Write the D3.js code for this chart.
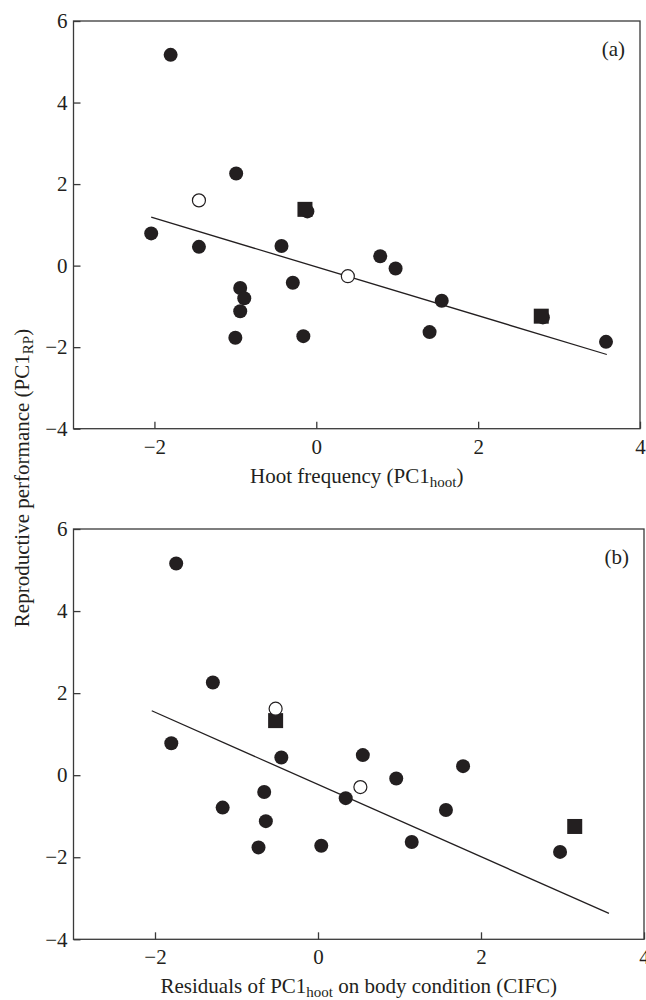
<!DOCTYPE html>
<html>
<head>
<meta charset="utf-8">
<script src="https://cdn.jsdelivr.net/npm/d3@7"></script>
<style>
  body { margin: 0; background: #fff; }
  text { font-family: "Liberation Serif", "DejaVu Serif", serif; fill: #231f20; }
</style>
</head>
<body>
<div id="chart"></div>
<script>
// Panel (a): hoot frequency vs reproductive performance
const aFilledX = [-1.80, -0.99, -2.04, -1.45, -0.43, -0.29, -0.94, -0.89, -0.94, -1.00, -0.16, -0.11, 0.79, 0.98, 1.55, 1.40, 2.80, 3.58];
const aFilledY = [5.17, 2.26, 0.79, 0.46, 0.48, -0.42, -0.55, -0.80, -1.12, -1.77, -1.73, 1.33, 0.23, -0.07, -0.86, -1.63, -1.27, -1.87];
const aSquareX = [-0.14, 2.78];
const aSquareY = [1.38, -1.24];
const aOpenX = [-1.45, 0.39];
const aOpenY = [1.60, -0.26];
const aFitX = [-2.04, 3.59];
const aFitY = [1.19, -2.18];

// Panel (b): residuals of PC1hoot on body condition
const bFilledX = [-1.74, -1.29, -1.80, -0.45, -0.66, -1.17, -0.64, -0.73, 0.04, 0.34, 0.55, 0.96, 1.78, 1.57, 1.15, 2.97];
const bFilledY = [5.16, 2.26, 0.78, 0.43, -0.41, -0.79, -1.12, -1.76, -1.72, -0.56, 0.49, -0.08, 0.22, -0.85, -1.63, -1.87];
const bSquareX = [-0.52, 3.15];
const bSquareY = [1.33, -1.25];
const bOpenX = [-0.52, 0.52];
const bOpenY = [1.62, -0.29];
const bFitX = [-2.04, 3.57];
const bFitY = [1.57, -3.37];

const xTicks = [-2, 0, 2, 4];
const yTicks = [-4, -2, 0, 2, 4, 6];

const ink = "#231f20", axisColor = "#3a3a3a";

const svg = d3.select("#chart").append("svg")
  .attr("width", 646).attr("height", 1000);

const zip = (xs, ys) => xs.map((x, i) => [x, ys[i]]);
const fmt = d3.format("d");

const drawPanel = (p) => {
  const x = d3.scaleLinear().domain([-3, 4]).range([p.left, p.right]);
  const y = d3.scaleLinear().domain([-4, 6]).range([p.bottom, p.top]);
  const g = svg.append("g");

  // axes with inward ticks
  const xAxis = g.append("g")
    .attr("transform", `translate(0,${p.bottom})`)
    .call(d3.axisBottom(x).tickValues(xTicks).tickFormat(fmt)
      .tickSizeInner(-7).tickSizeOuter(0).tickPadding(10));
  const yAxis = g.append("g")
    .attr("transform", `translate(${p.left},0)`)
    .call(d3.axisLeft(y).tickValues(yTicks).tickFormat(fmt)
      .tickSizeInner(-7).tickSizeOuter(0).tickPadding(6));

  [xAxis, yAxis].forEach((a) => {
    a.select(".domain").remove();
    a.selectAll("line").attr("stroke", axisColor).attr("stroke-width", 1.3);
    a.selectAll("text").attr("font-size", 21).attr("fill", ink)
      .style("font-family", "'Liberation Serif', serif");
  });

  // frame
  g.append("rect")
    .attr("x", p.left).attr("y", p.top)
    .attr("width", p.right - p.left).attr("height", p.bottom - p.top)
    .attr("fill", "none").attr("stroke", axisColor).attr("stroke-width", 1.3);

  // fitted line
  g.append("path")
    .datum(zip(p.fitX, p.fitY))
    .attr("d", d3.line().x((d) => x(d[0])).y((d) => y(d[1])))
    .attr("stroke", ink).attr("stroke-width", 1.3).attr("fill", "none");

  g.selectAll(".filled")
    .data(zip(p.filledX, p.filledY))
    .join("circle")
    .attr("class", "filled")
    .attr("cx", (d) => x(d[0])).attr("cy", (d) => y(d[1]))
    .attr("r", 7).attr("fill", ink);

  g.selectAll(".square")
    .data(zip(p.squareX, p.squareY))
    .join("rect")
    .attr("class", "square")
    .attr("x", (d) => x(d[0]) - 7.5).attr("y", (d) => y(d[1]) - 7.5)
    .attr("width", 15).attr("height", 15).attr("fill", ink);

  g.selectAll(".open")
    .data(zip(p.openX, p.openY))
    .join("circle")
    .attr("class", "open")
    .attr("cx", (d) => x(d[0])).attr("cy", (d) => y(d[1]))
    .attr("r", 6.5).attr("fill", "#fff").attr("stroke", ink).attr("stroke-width", 1.2);

  g.append("text")
    .attr("x", p.right - 15).attr("y", p.top + 35)
    .attr("text-anchor", "end").attr("font-size", 21)
    .text(p.tag);

  // x axis title with subscript
  const t = g.append("text")
    .attr("x", (p.left + p.right) / 2).attr("y", p.bottom + 54)
    .attr("text-anchor", "middle").attr("font-size", 21);
  t.append("tspan").text(p.titleA);
  t.append("tspan").attr("font-size", 15).attr("dy", 4).text("hoot");
  t.append("tspan").attr("dy", -4).text(p.titleB);
};

drawPanel({
  left: 73.5, right: 640, top: 21, bottom: 428.7, tag: "(a)",
  filledX: aFilledX, filledY: aFilledY, squareX: aSquareX, squareY: aSquareY,
  openX: aOpenX, openY: aOpenY, fitX: aFitX, fitY: aFitY,
  titleA: "Hoot frequency (PC1", titleB: ")"
});

drawPanel({
  left: 73.5, right: 644, top: 529, bottom: 939.3, tag: "(b)",
  filledX: bFilledX, filledY: bFilledY, squareX: bSquareX, squareY: bSquareY,
  openX: bOpenX, openY: bOpenY, fitX: bFitX, fitY: bFitY,
  titleA: "Residuals of PC1", titleB: " on body condition (CIFC)"
});

// shared y axis title
const yl = svg.append("text")
  .attr("transform", "translate(29,478) rotate(-90)")
  .attr("text-anchor", "middle").attr("font-size", 21);
yl.append("tspan").text("Reproductive performance (PC1");
yl.append("tspan").attr("font-size", 15).attr("dy", 4).text("RP");
yl.append("tspan").attr("dy", -4).text(")");
</script>
</body>
</html>
